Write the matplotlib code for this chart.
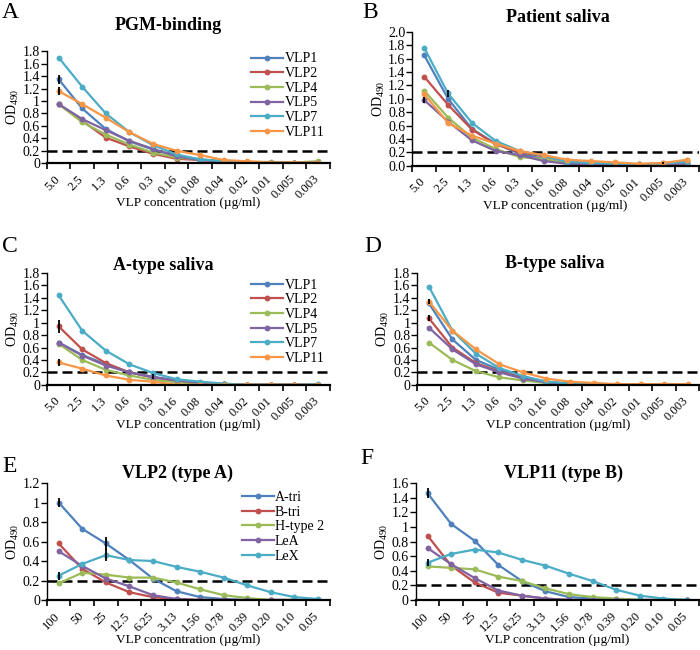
import numpy as np
import matplotlib
matplotlib.use("Agg")
import matplotlib.pyplot as plt
from matplotlib.transforms import ScaledTranslation, blended_transform_factory

plt.rcParams['font.family'] = ['Liberation Serif', 'DejaVu Serif']
plt.rcParams['mathtext.fontset'] = 'custom'
plt.rcParams['mathtext.rm'] = 'Liberation Serif'

# x categories
conc_vlp = ['5.0', '2.5', '1.3', '0.6', '0.3', '0.16', '0.08', '0.04', '0.02', '0.01', '0.005', '0.003']
conc_glyc = ['100', '50', '25', '12.5', '6.25', '3.13', '1.56', '0.78', '0.39', '0.20', '0.10', '0.05']

vlp_names = ['VLP1', 'VLP2', 'VLP4', 'VLP5', 'VLP7', 'VLP11']
glyc_names = ['A-tri', 'B-tri', 'H-type 2', 'LeA', 'LeX']

# A: PGM-binding
pgm_vlp1 = [1.35, 0.88, 0.55, 0.35, 0.22, 0.12, 0.06, 0.03, 0.01, 0.01, 0.00, 0.01]
pgm_vlp2 = [0.95, 0.68, 0.41, 0.27, 0.15, 0.07, 0.05, 0.02, 0.01, 0.01, 0.00, 0.01]
pgm_vlp4 = [0.95, 0.66, 0.46, 0.30, 0.17, 0.09, 0.06, 0.03, 0.02, 0.02, 0.01, 0.03]
pgm_vlp5 = [0.95, 0.71, 0.53, 0.36, 0.23, 0.11, 0.05, 0.02, 0.01, 0.01, 0.00, 0.01]
pgm_vlp7 = [1.70, 1.23, 0.80, 0.50, 0.29, 0.14, 0.06, 0.03, 0.00, 0.01, 0.00, 0.01]
pgm_vlp11 = [1.16, 0.95, 0.73, 0.50, 0.31, 0.20, 0.13, 0.05, 0.03, 0.01, 0.01, 0.01]
pgm_err = [('VLP1', 0, 0.07), ('VLP11', 0, 0.07)]

# B: Patient saliva
pat_vlp1 = [1.65, 1.00, 0.55, 0.33, 0.18, 0.10, 0.04, 0.03, 0.02, 0.01, 0.02, 0.02]
pat_vlp2 = [1.33, 0.91, 0.54, 0.32, 0.20, 0.14, 0.06, 0.04, 0.03, 0.02, 0.04, 0.06]
pat_vlp4 = [1.12, 0.72, 0.42, 0.25, 0.13, 0.10, 0.05, 0.03, 0.02, 0.02, 0.01, 0.08]
pat_vlp5 = [0.98, 0.66, 0.38, 0.22, 0.16, 0.07, 0.03, 0.02, 0.02, 0.01, 0.02, 0.02]
pat_vlp7 = [1.76, 1.08, 0.64, 0.37, 0.22, 0.15, 0.06, 0.04, 0.03, 0.02, 0.03, 0.06]
pat_vlp11 = [1.07, 0.64, 0.45, 0.33, 0.22, 0.16, 0.09, 0.07, 0.05, 0.03, 0.04, 0.09]
pat_err = [('VLP7', 1, 0.05), ('VLP5', 0, 0.04), ('VLP11', 10, 0.02)]

# C: A-type saliva
sa_vlp1 = [0.68, 0.48, 0.33, 0.20, 0.13, 0.07, 0.03, 0.01, 0.00, 0.00, 0.00, 0.00]
sa_vlp2 = [0.94, 0.57, 0.35, 0.20, 0.12, 0.06, 0.02, 0.01, 0.00, 0.00, 0.00, 0.00]
sa_vlp4 = [0.66, 0.40, 0.24, 0.15, 0.08, 0.04, 0.02, 0.01, 0.00, 0.00, 0.00, 0.00]
sa_vlp5 = [0.68, 0.47, 0.31, 0.20, 0.12, 0.07, 0.03, 0.01, 0.00, 0.00, 0.00, 0.00]
sa_vlp7 = [1.44, 0.87, 0.55, 0.33, 0.19, 0.09, 0.05, 0.02, 0.00, 0.00, 0.00, 0.01]
sa_vlp11 = [0.36, 0.26, 0.15, 0.08, 0.05, 0.00, 0.00, 0.00, 0.00, 0.00, 0.00, 0.00]
sa_err = [('VLP2', 0, 0.10), ('VLP11', 0, 0.06), ('VLP1', 4, 0.04)]

# D: B-type saliva
sb_vlp1 = [1.31, 0.73, 0.40, 0.24, 0.13, 0.05, 0.02, 0.01, 0.00, 0.00, 0.00, 0.00]
sb_vlp2 = [1.07, 0.60, 0.35, 0.21, 0.11, 0.04, 0.01, 0.00, 0.00, 0.00, 0.00, 0.00]
sb_vlp4 = [0.68, 0.40, 0.22, 0.12, 0.07, 0.03, 0.01, 0.00, 0.00, 0.00, 0.00, 0.00]
sb_vlp5 = [0.92, 0.57, 0.33, 0.20, 0.10, 0.04, 0.01, 0.00, 0.00, 0.00, 0.00, 0.00]
sb_vlp7 = [1.58, 0.87, 0.50, 0.27, 0.14, 0.05, 0.02, 0.01, 0.00, 0.00, 0.00, 0.00]
sb_vlp11 = [1.34, 0.87, 0.57, 0.33, 0.20, 0.10, 0.05, 0.03, 0.01, 0.01, 0.01, 0.01]
sb_err = [('VLP2', 0, 0.05), ('VLP11', 0, 0.04)]

# E: VLP2 (type A)
e_atri = [1.00, 0.73, 0.58, 0.41, 0.22, 0.09, 0.03, 0.01, 0.00, 0.00, 0.00, 0.00]
e_btri = [0.58, 0.32, 0.18, 0.08, 0.03, 0.01, 0.00, 0.00, 0.00, 0.00, 0.00, 0.00]
e_htype2 = [0.17, 0.28, 0.26, 0.23, 0.23, 0.18, 0.11, 0.05, 0.02, 0.00, 0.00, 0.00]
e_lea = [0.50, 0.35, 0.22, 0.14, 0.05, 0.01, 0.00, 0.00, 0.00, 0.00, 0.00, 0.00]
e_lex = [0.25, 0.37, 0.46, 0.41, 0.40, 0.34, 0.29, 0.23, 0.15, 0.08, 0.03, 0.01]
e_err = [('A-tri', 0, 0.05), ('A-tri', 2, 0.07), ('LeX', 2, 0.06), ('LeX', 0, 0.04)]

# F: VLP11 (type B)
f_atri = [1.46, 1.04, 0.81, 0.48, 0.26, 0.12, 0.04, 0.02, 0.01, 0.00, 0.00, 0.00]
f_btri = [0.88, 0.47, 0.24, 0.10, 0.06, 0.02, 0.00, 0.00, 0.00, 0.00, 0.00, 0.00]
f_htype2 = [0.46, 0.44, 0.42, 0.32, 0.26, 0.16, 0.08, 0.04, 0.02, 0.00, 0.00, 0.00]
f_lea = [0.71, 0.49, 0.30, 0.13, 0.06, 0.02, 0.00, 0.00, 0.00, 0.00, 0.00, 0.00]
f_lex = [0.51, 0.63, 0.69, 0.65, 0.55, 0.47, 0.36, 0.26, 0.14, 0.06, 0.02, 0.00]
f_err = [('A-tri', 0, 0.07), ('LeX', 0, 0.05)]

colors = ['#4F81BD', '#C0504D', '#9BBB59', '#8064A2', '#4BACC6', '#F79646']

W, H = 700, 650


def px(dx, dy):
    # offset in pixels (figure is saved at 100 dpi)
    return ScaledTranslation(dx / 100, dy / 100, fig.dpi_scale_trans)


def draw_panel(rect, title, title_xy, labels, names, series, err, ymax, yfmt, legend_top=None):
    ax = fig.add_axes(rect)
    x = np.arange(len(labels)) + 0.5
    for name, vals, c in zip(names, series, colors):
        ax.plot(x, vals, color=c, marker='o', markersize=3.2, linewidth=1.6, label=name)
    for name, i, e in err:
        vals = series[names.index(name)]
        ax.errorbar(x[i], vals[i], yerr=e, fmt='none', ecolor='black', elinewidth=1.3, capsize=0)
    ax.axhline(0.2, color='black', linestyle=(0, (4, 2)), linewidth=1.8, zorder=0.5)
    ax.set_xlim(0, len(labels))
    ax.set_ylim(0, ymax)
    ax.set_xticks(np.arange(len(labels) + 1))
    ax.set_xticklabels([])
    ax.tick_params(axis='x', which='major', length=4, width=1.2, direction='out')
    # category labels, rotated like the spreadsheet original
    tr = blended_transform_factory(ax.transData, ax.transAxes) + px(-5, -10)
    for xi, lab in zip(x, labels):
        ax.text(xi, 0, lab, transform=tr, rotation=45, rotation_mode='anchor',
                ha='right', va='top', fontsize=9, clip_on=False)
    ticks = np.arange(0, ymax + 1e-9, 0.2)
    ax.set_yticks(ticks)
    ax.set_yticklabels([yfmt(t) for t in ticks], fontsize=10)
    ax.tick_params(axis='y', length=4, width=1, direction='out', pad=1)
    for s in ['top', 'right']:
        ax.spines[s].set_visible(False)
    ax.spines['bottom'].set_linewidth(1.6)
    ax.spines['left'].set_linewidth(1.0)
    ax.set_ylabel(r'OD$_{490}$', fontsize=10, labelpad=1)
    ax_h = rect[3] * H
    ax.set_xlabel('VLP concentration (\u00b5g/ml)', fontsize=9.5)
    ax.xaxis.set_label_coords(0.5, -34 / ax_h)
    fig.text(title_xy[0] / W, 1 - title_xy[1] / H, title, fontsize=13, fontweight='bold',
             ha='center', va='center')
    if legend_top is not None:
        ax.legend(loc='upper right', bbox_to_anchor=(1.0, legend_top), frameon=False, fontsize=10,
                  handlelength=2.3, handletextpad=0.1, labelspacing=0.12, borderaxespad=0)
    return ax


def fmt_g(t):
    return '%g' % round(t, 1)


def fmt_1(t):
    return '%.1f' % t


fig = plt.figure(figsize=(7, 6.5), dpi=100)

draw_panel([0.067, 0.749, 0.404, 0.172], 'PGM-binding', (168, 25), conc_vlp, vlp_names,
           [pgm_vlp1, pgm_vlp2, pgm_vlp4, pgm_vlp5, pgm_vlp7, pgm_vlp11], pgm_err,
           1.8, fmt_g, legend_top=1.04)
draw_panel([0.589, 0.745, 0.409, 0.206], 'Patient saliva', (558, 18), conc_vlp, vlp_names,
           [pat_vlp1, pat_vlp2, pat_vlp4, pat_vlp5, pat_vlp7, pat_vlp11], pat_err,
           2.0, fmt_1)
draw_panel([0.067, 0.408, 0.404, 0.172], 'A-type saliva', (163, 265), conc_vlp, vlp_names,
           [sa_vlp1, sa_vlp2, sa_vlp4, sa_vlp5, sa_vlp7, sa_vlp11], sa_err,
           1.8, fmt_g, legend_top=1.0)
draw_panel([0.596, 0.408, 0.403, 0.172], 'B-type saliva', (555, 264), conc_vlp, vlp_names,
           [sb_vlp1, sb_vlp2, sb_vlp4, sb_vlp5, sb_vlp7, sb_vlp11], sb_err,
           1.8, fmt_g)
draw_panel([0.067, 0.0769, 0.404, 0.18], 'VLP2 (type A)', (178, 473), conc_glyc, glyc_names,
           [e_atri, e_btri, e_htype2, e_lea, e_lex], e_err,
           1.2, fmt_g, legend_top=0.98)
draw_panel([0.594, 0.0769, 0.404, 0.18], 'VLP11 (type B)', (563, 473), conc_glyc, glyc_names,
           [f_atri, f_btri, f_htype2, f_lea, f_lex], f_err,
           1.6, fmt_g)

# panel letters
for letter, (lx, ly) in zip('ABCDEF', [(2, 12), (362, 12), (2, 247), (364, 247), (2, 466), (360, 459)]):
    fig.text(lx / W, 1 - ly / H, letter, fontsize=17, ha='left', va='center')

fig.savefig('out.png', dpi=100)
